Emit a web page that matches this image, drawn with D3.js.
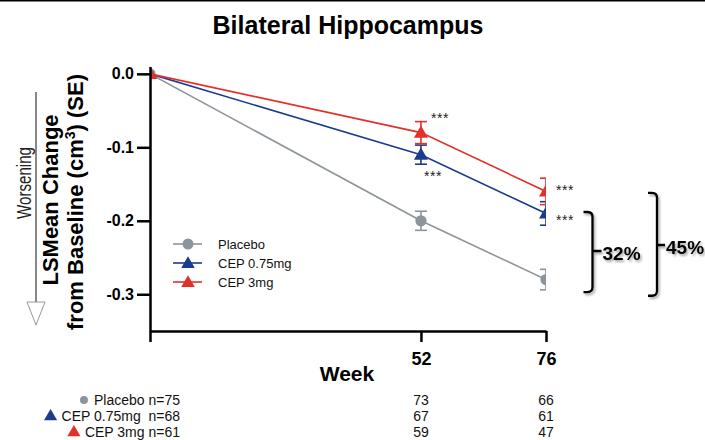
<!DOCTYPE html>
<html>
<head>
<meta charset="utf-8">
<script src="https://cdn.jsdelivr.net/npm/d3@7"></script>
<style>
  html, body { margin: 0; padding: 0; background: #fff; }
  svg { display: block; font-family: "Liberation Sans", Arial, sans-serif; }
</style>
</head>
<body>
<svg id="chart" width="705" height="440"></svg>
<script>
// Study visits (weeks) and LS-mean change from baseline with standard errors
const weeks = [0, 52, 76];
const placeboMean = [0, -0.200, -0.280];
const placeboSE   = [0, 0.013, 0.014];
const cep075Mean  = [0, -0.110, -0.190];
const cep075SE    = [0, 0.013, 0.016];
const cep3Mean    = [0, -0.080, -0.160];
const cep3SE      = [0, 0.015, 0.018];

// Patients remaining at each visit
const placeboN = [75, 73, 66];
const cep075N  = [68, 67, 61];
const cep3N    = [61, 59, 47];

const seriesNames = ["Placebo", "CEP 0.75mg", "CEP 3mg"];
const yTicks = [0, -0.1, -0.2, -0.3];
const xTicks = [0, 52, 76];
const reductionLabels = ["32%", "45%"];

const colors = { "Placebo": "#8d959c", "CEP 0.75mg": "#1b3b8c", "CEP 3mg": "#e3312a" };

const series = [
  { name: seriesNames[0], mean: placeboMean, se: placeboSE, n: placeboN, symbol: d3.symbolCircle },
  { name: seriesNames[1], mean: cep075Mean, se: cep075SE, n: cep075N, symbol: d3.symbolTriangle },
  { name: seriesNames[2], mean: cep3Mean, se: cep3SE, n: cep3N, symbol: d3.symbolTriangle }
];

const svg = d3.select("#chart");

const x = d3.scaleLinear().domain([0, 76]).range([150, 546]);
const y = d3.scaleLinear().domain([-0.35, 0.01]).range([331, 66.5]);

// drop shadow used by the bracket annotations
const defs = svg.append("defs");
const f = defs.append("filter").attr("id", "shadow").attr("x", "-50%").attr("y", "-20%")
  .attr("width", "200%").attr("height", "140%");
f.append("feDropShadow").attr("dx", 1.5).attr("dy", 2).attr("stdDeviation", 1.2)
  .attr("flood-color", "#000").attr("flood-opacity", 0.35);

defs.append("clipPath").attr("id", "plotClip")
  .append("rect").attr("x", x(0)).attr("y", 0).attr("width", x(76) - x(0)).attr("height", 440);

// top rule
svg.append("line").attr("x1", 0).attr("x2", 705).attr("y1", 0.75).attr("y2", 0.75)
  .attr("stroke", "#000").attr("stroke-width", 1.5);

// title
svg.append("text").attr("x", 348).attr("y", 33.5).attr("text-anchor", "middle")
  .attr("font-size", 25).attr("font-weight", "bold").text("Bilateral Hippocampus");

// lines, error bars and markers
const plot = svg.append("g").attr("clip-path", "url(#plotClip)");
const line = d3.line().x((d, i) => x(weeks[i])).y(d => y(d));

series.forEach(s => {
  const c = colors[s.name];
  const g = plot.append("g");
  g.append("path").attr("d", line(s.mean)).attr("fill", "none")
    .attr("stroke", c).attr("stroke-width", 1.6);
  s.mean.forEach((m, i) => {
    if (s.se[i] > 0) {
      const cx = x(weeks[i]);
      const yt = y(m + s.se[i]), yb = y(m - s.se[i]);
      g.append("line").attr("x1", cx).attr("x2", cx).attr("y1", yt).attr("y2", yb)
        .attr("stroke", c).attr("stroke-width", 1.6);
      [yt, yb].forEach(yy => g.append("line").attr("x1", cx - 6).attr("x2", cx + 6)
        .attr("y1", yy).attr("y2", yy).attr("stroke", c).attr("stroke-width", 1.6));
    }
    const size = s.symbol === d3.symbolCircle ? 100 : 85;
    const dy = s.symbol === d3.symbolTriangle ? 1 : 0;
    g.append("path").attr("d", d3.symbol(s.symbol, size)())
      .attr("transform", `translate(${x(weeks[i])},${y(m) + dy})`).attr("fill", c);
  });
});

// axes
const yAxis = d3.axisLeft(y).tickValues(yTicks).tickSize(13).tickSizeOuter(0).tickPadding(3)
  .tickFormat(d => d.toFixed(1));
const gy = svg.append("g").attr("transform", `translate(${x(0)},0)`).call(yAxis);
gy.selectAll("path, line").attr("stroke", "#000").attr("stroke-width", 2.5);
gy.selectAll("text").attr("font-size", 16).attr("font-weight", "bold").attr("fill", "#000")
  .attr("font-family", "Liberation Sans, Arial, sans-serif");

const xAxis = d3.axisBottom(x).tickValues(xTicks).tickSize(11).tickSizeOuter(0).tickPadding(10)
  .tickFormat(d => d === 0 ? "" : String(d));
const gx = svg.append("g").attr("transform", `translate(0,${y(-0.35)})`).call(xAxis);
gx.selectAll("path, line").attr("stroke", "#000").attr("stroke-width", 2.5);
gx.selectAll("text").attr("font-size", 18).attr("font-weight", "bold").attr("fill", "#000")
  .attr("font-family", "Liberation Sans, Arial, sans-serif");

svg.append("text").attr("x", 347).attr("y", 381).attr("text-anchor", "middle")
  .attr("font-size", 21).attr("font-weight", "bold").text("Week");

// y-axis titles
const yt = svg.append("g");
yt.append("text").attr("transform", "translate(58,200) rotate(-90)").attr("text-anchor", "middle")
  .attr("font-size", 22).attr("font-weight", "bold").text("LSMean Change");
const t2 = yt.append("text").attr("transform", "translate(83,202) rotate(-90)").attr("text-anchor", "middle")
  .attr("font-size", 22).attr("font-weight", "bold");
t2.append("tspan").text("from Baseline (cm");
t2.append("tspan").attr("font-size", 14).attr("dy", -8).text("3");
t2.append("tspan").attr("dy", 8).text(") (SE)");

yt.append("text").attr("transform", "translate(31,183) rotate(-90)").attr("text-anchor", "middle")
  .attr("font-size", 20).attr("fill", "#222").attr("textLength", 72).attr("lengthAdjust", "spacingAndGlyphs")
  .text("Worsening");
yt.append("line").attr("x1", 36).attr("x2", 36).attr("y1", 92).attr("y2", 302)
  .attr("stroke", "#111").attr("stroke-width", 1);
yt.append("path").attr("d", "M27,302 L45,302 L36,325 Z").attr("fill", "#fff")
  .attr("stroke", "#999").attr("stroke-width", 1);

// significance markers
const stars = [
  { s: 2, i: 1, dx: 10, dy: -10 },
  { s: 1, i: 1, dx: 3, dy: 26 },
  { s: 2, i: 2, dx: 10, dy: 4 },
  { s: 1, i: 2, dx: 10, dy: 12 }
];
stars.forEach(st => {
  const s = series[st.s];
  svg.append("text").attr("x", x(weeks[st.i]) + st.dx).attr("y", y(s.mean[st.i]) + st.dy)
    .attr("font-size", 14).attr("fill", "#222").attr("letter-spacing", 0.6).text("***");
});

// legend
const legend = svg.append("g");
series.forEach((s, k) => {
  const ly = 244 + k * 19;
  const c = colors[s.name];
  legend.append("line").attr("x1", 173).attr("x2", 202).attr("y1", ly).attr("y2", ly)
    .attr("stroke", c).attr("stroke-width", 1.6);
  legend.append("path").attr("d", d3.symbol(s.symbol, s.symbol === d3.symbolCircle ? 95 : 80)())
    .attr("transform", `translate(188,${ly + (s.symbol === d3.symbolTriangle ? 1 : 0)})`).attr("fill", c);
  legend.append("text").attr("x", 218).attr("y", ly + 4.5).attr("font-size", 13)
    .attr("fill", "#111").text(s.name);
});

// percent reduction brackets
function bracket(xv, top, bottom, armLen, tickLen, label, midY) {
  const r = 5;
  const g = svg.append("g").attr("filter", "url(#shadow)");
  g.append("path")
    .attr("d", `M${xv - armLen},${top} L${xv - r},${top} Q${xv},${top} ${xv},${top + r} L${xv},${bottom - r} Q${xv},${bottom} ${xv - r},${bottom} L${xv - armLen},${bottom}` +
      ` M${xv},${midY} L${xv + tickLen},${midY}`)
    .attr("fill", "none").attr("stroke", "#000").attr("stroke-width", 2.3);
  g.append("text").attr("x", xv + tickLen + 1).attr("y", midY + 9).attr("font-size", 19)
    .attr("font-weight", "bold").text(label);
}
bracket(592.5, y(-0.188), y(-0.297), 9, 9, reductionLabels[0], 251);
bracket(657, y(-0.162), y(-0.302), 9, 8, reductionLabels[1], 245);

// patients at risk table
const table = svg.append("g");
const rowX = [180, 180, 180];
series.forEach((s, k) => {
  const by = 405 + k * 16;
  const c = colors[s.name];
  const label = k === 1 ? `${s.name}  n=${s.n[0]}` : `${s.name} n=${s.n[0]}`;
  const t = table.append("text").attr("x", rowX[k]).attr("y", by).attr("text-anchor", "end")
    .attr("font-size", 14).attr("fill", "#111").attr("xml:space", "preserve").text(label);
  const w = t.node().getComputedTextLength();
  const mx = rowX[k] - w - (s.symbol === d3.symbolCircle ? 10 : 11);
  table.append("path").attr("d", d3.symbol(s.symbol, s.symbol === d3.symbolCircle ? 50 : 75)())
    .attr("transform", `translate(${mx},${by - 5 + (s.symbol === d3.symbolTriangle ? 0.5 : 0)})`).attr("fill", c);
  [1, 2].forEach(i => {
    table.append("text").attr("x", x(weeks[i])).attr("y", by).attr("text-anchor", "middle")
      .attr("font-size", 14).attr("fill", "#111").text(s.n[i]);
  });
});
</script>
</body>
</html>
